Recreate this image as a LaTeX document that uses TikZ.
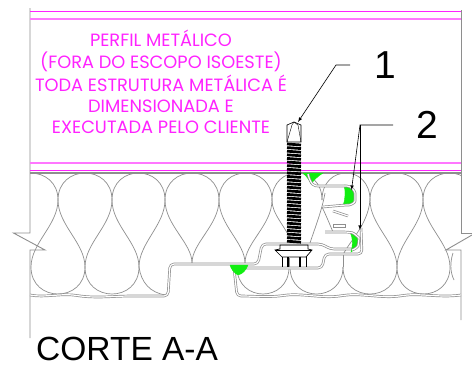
\documentclass[tikz,border=0pt]{standalone}
\usepackage{fontspec}
\setmainfont{Liberation Sans}
\newfontfamily\perfilfont{Poppins}
\usepackage{color}
\definecolor{perfil}{HTML}{FF22FF}
\definecolor{perfillight}{HTML}{FF77FF}
\definecolor{traco}{HTML}{8E8E8E}
\definecolor{vedante}{HTML}{11EE11}
\begin{document}
\begin{tikzpicture}[x=1pt,y=-1pt,
		wall/.style={traco, line width=0.9pt},
		lobe/.style={traco, line width=0.7pt},
		sheet/.style={draw=traco, line width=0.7pt, double=white, double distance=1.2pt, rounded corners=4pt},
		leader/.style={black, line width=0.6pt},
		perfiltext/.style={perfil, font=\perfilfont\fontsize{17.8}{18}\selectfont, anchor=base},
		number/.style={black, font=\fontsize{39}{39}\selectfont, anchor=base}]
		\useasboundingbox (0,0) rectangle (472,367);
		% walls
		\draw[wall] (30,8) -- (30,233) -- (13.5,233) -- (45,250) -- (30,250) -- (30,338);
		\draw[wall] (461,10) -- (461,233) -- (472,233);
		\draw[wall] (472,235) -- (446,250) -- (461,250) -- (461,320);
		% metal profile
		\draw[perfil, line width=0.9pt] (30,11.5) -- (461,11.5);
		\draw[perfillight, line width=1.1pt] (30,19) -- (461,19);
		\draw[perfillight, line width=1.4pt] (30,163) -- (461,163);
		\draw[perfil, line width=0.9pt] (30,170.5) -- (461,170.5);
		\draw[traco, line width=1.1pt] (30,173) -- (461,173);
		\node[perfiltext] (line1) at (161,46) {PERFIL METÁLICO};
		\node[perfiltext] (line2) at (161,68) {(FORA DO ESCOPO ISOESTE)};
		\node[perfiltext] (line3) at (161,91) {TODA ESTRUTURA METÁLICA É};
		\node[perfiltext] (line4) at (161,112) {DIMENSIONADA E};
		\node[perfiltext] (line5) at (161,133.5) {EXECUTADA PELO CLIENTE};
		% insulation
		\begin{scope}
			\clip (30,173) rectangle (461,300);
			\foreach \a/\b in {3/58,58/112,112/165,165/219,219/272,272/322,322/370,370/423,423/476}
				\draw[lobe] (\a,200) .. controls (\a,164) and (\b,164) .. (\b,200);
			\foreach \a/\b/\e in {58/31/267,58/85/267,112/85/267,112/139/267,165/139/267,165/192/263,219/192/263,219/245/263,272/245/263,370/397/267,423/397/267,423/450/267}
				\draw[lobe] (\a,200) .. controls (\a,225) and (\b,243) .. (\b,\e);
			\draw[lobe] (272,200) .. controls (272,215) and (285,225) .. (292,243);
			\draw[lobe] (325,193) .. controls (322,210) and (316,225) .. (310,243);
			\draw[lobe] (370,200) .. controls (368,225) and (348,243) .. (343,255);
			\draw[lobe] (322,207) .. controls (326,215) and (330,225) .. (333,232);
			\foreach \a/\b in {31/85,85/139,237/289,290/343,343/397,397/450}
				\draw[lobe] (\a,267) .. controls (\a,303) and (\b,303) .. (\b,267);
			\draw[lobe] (139,267) .. controls (141,282) and (150,293) .. (166,295);
			\draw[lobe] (453,253) .. controls (450,262) and (450,272) .. (454,280);
			\draw[lobe] (289,267) -- (289,258);
			\draw[lobe] (343,267) -- (343,255);
		\end{scope}
		% sheets
		\draw[sheet] (30,295) .. controls (45,298) and (60,293) .. (80,296) .. controls (100,298) and (115,296) .. (135,296) -- (168,296) -- (170,264) -- (258,264) -- (262,244) -- (322,244) -- (330,249) -- (352,249);
		\draw[sheet] (461,295) .. controls (440,298) and (420,293) .. (400,296) .. controls (380,298) and (360,293) .. (340,296) .. controls (320,298) and (300,293) .. (280,296) .. controls (265,297) and (250,296) .. (237,296) -- (234,268) -- (322,268) -- (325,254) -- (362,254) -- (361,228);
		\filldraw[vedante] (303,173) -- (323,173) .. controls (318,176) and (314,180) .. (311,184) .. controls (309,179) and (306,176) .. (303,173);
		\filldraw[vedante] (230,265) -- (248,265) .. controls (246,270) and (243,274) .. (238,275) .. controls (234,273) and (231,269) .. (230,265);
		\filldraw[vedante] (344,185) .. controls (352,185) and (355,193) .. (354,199) .. controls (353,204) and (349,206) .. (343,206) .. controls (345,200) and (346,192) .. (344,185);
		\filldraw[vedante] (350,232) .. controls (359,234) and (362,246) .. (351,252) .. controls (353,245) and (353,238) .. (350,232);
		\draw[sheet] (308,174) .. controls (311,186) and (315,186) .. (322,186) -- (343,186) .. controls (352,186) and (355,192) .. (355,197) .. controls (355,203) and (350,205) .. (345,205) -- (323,207);
		\draw[sheet] (325,232) -- (348,232) .. controls (354,233) and (359,238) .. (359,242) .. controls (358,246) and (356,249) .. (352,250);
		\draw[sheet] (333,208) -- (333,228);
		\draw[sheet] (333,211) -- (348,216);
		\draw[traco, line width=0.6pt] (333,224) rectangle (345,227);
		\draw[sheet] (333,229) -- (358,229);
		% screw
		\draw[black, line width=0.6pt] (294,122) -- (287,125) -- (287,142) -- (301,142) -- (301,125) -- cycle;
		\draw[black, line width=0.4pt] (287,142) -- (292,125) -- (294,122) -- (298,125) -- (301,142);
		\foreach \y in {144,147.6,...,243}
			\draw[black, line width=2.7pt] (287,\y) -- (301,\y+1);
		\draw[black, line width=0.7pt] (280,245) -- (308,245) -- (308,249) -- (312,250) -- (306,257) -- (282,257) -- (275,250) -- (280,249) -- cycle;
		\draw[black, line width=0.5pt] (275,250) -- (312,250);
		\draw[black, line width=0.7pt] (282,257) -- (282,267);
		\draw[black, line width=0.7pt] (306,257) -- (306,267);
		\draw[black, line width=1.1pt] (288,257) -- (288,267);
		\draw[black, line width=1.1pt] (300,257) -- (300,267);
		% leaders
		\coordinate (tip1) at (298,122);
		\coordinate (knee1) at (336,65);
		\coordinate (end1) at (350,65);
		\coordinate (tip2a) at (351.5,190);
		\coordinate (tip2b) at (360,230);
		\coordinate (knee2) at (360,125);
		\coordinate (end2) at (393,125);
		\draw[leader, -latex] (end1) -- (knee1) -- (tip1);
		\draw[leader, -latex] (end2) -- (knee2) -- (tip2a);
		\draw[leader, -latex] (knee2) -- (tip2b);
		\node[number] (num1) at (385,78) {1};
		\node[number] (num2) at (427.5,138) {2};
		\node[black, font=\fontsize{33.5}{34}\selectfont, anchor=base west, inner sep=1pt] (title) at (35,360.5) {CORTE A-A};
\end{tikzpicture}
\end{document}
